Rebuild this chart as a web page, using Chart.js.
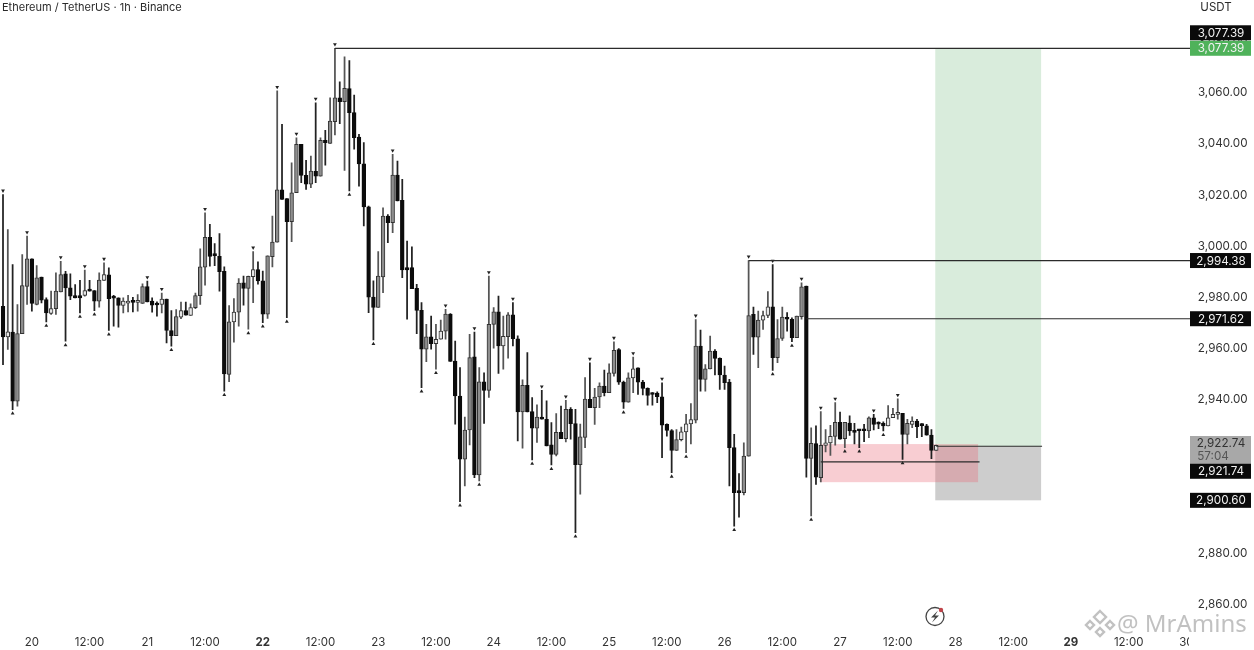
<!DOCTYPE html>
<html>
<head>
<meta charset="utf-8">
<style>
  html, body { margin: 0; padding: 0; background: #fff; overflow: hidden; }
  canvas { display: block; filter: blur(0.35px); }
</style>
<script src="https://cdn.jsdelivr.net/npm/chart.js@4/dist/chart.umd.min.js"></script>
</head>
<body>
<canvas id="chart" width="1254" height="650"></canvas>
<script>
"use strict";

const opens = [
  2976.5,2964.5,2966.4,2939.4,2965.8,2984.3,2995,2977.2,2987.9,2979.1,
  2973.7,2975.6,2982.1,2989.2,2983.7,2980.7,2980.7,2980.7,2982.9,2982.6,
  2978.5,2986.6,2988.8,2980,2979.8,2976.8,2977.7,2978.1,2978,2977.6,
  2984.2,2978.5,2977.4,2977.2,2979.3,2967,2965,2972.2,2974.8,2972.9,
  2975.9,2980.6,2991.8,3003.5,2996.7,2996,2990.2,2949.8,2970.4,2974.2,
  2985.7,2983.5,2988.1,2990.8,2986.4,2973.4,2995.9,3001.6,3022,3018.6,
  3009.6,3020.9,3039.8,3027.7,3024.2,3029.3,3027.4,3041.4,3040.2,3048.7,
  3058,3056.5,3061.6,3052.2,3042.7,3032.2,3015.4,2980.1,2976,2988,
  3011.8,3009.2,3027.8,3017.9,2991.6,2991.6,2983.5,2974.9,2959.7,2964.5,
  2961.9,2963.6,2966.8,2973.4,2955.1,2941.4,2916.7,2928.1,2956.7,2910.5,
  2946.9,2943.6,2969.4,2974.3,2961,2964.6,2973.1,2963.8,2935.2,2945.6,
  2935.3,2928.8,2933.2,2932.3,2922.3,2918.6,2927.2,2924.7,2936.2,2930.6,
  2914.5,2925.2,2940.1,2936.8,2941,2945.3,2942.7,2950.2,2959.6,2946.8,
  2939,2948.5,2952.4,2946.8,2944.4,2942.5,2942.5,2941.1,2930.3,2927.9,
  2920.1,2924.3,2927.4,2930.5,2931.9,2960.9,2947.9,2952,2959,2956.1,
  2949.6,2946.8,2921.2,2904,2903.6,2917.9,2973.3,2964.4,2971.1,2972.9,
  2976.3,2956.4,2963.9,2972.1,2971.4,2964.2,2972.4,2984.4,2917,2922.8,
  2909.5,2922.1,2923.1,2925.6,2931.1,2924.7,2930.8,2927.6,2928.1,2928.1,
  2927.7,2932.9,2930.8,2930.7,2929.7,2932.9,2934.2,2934.6,2926.4,2930.3,
  2931.6,2930.2,2929.7,2926.1,2920.1
];
const highs = [
  3020.2,3006.5,2992.8,2977.2,2996.7,3003.9,2995,2992.4,2987.9,2979.8,
  2982.4,2989.6,2994.1,2990.2,2989.2,2985,2986.6,2990.6,2986.6,2982.6,
  2989.6,2993.5,2991.5,2980.8,2979.8,2979.8,2980.8,2980,2981.1,2985.3,
  2986.3,2979.8,2978.2,2981.7,2979.3,2974.8,2975.2,2978.1,2978.1,2977.4,
  2981.7,2999,3013,3008.5,3001,3004.9,2991.9,2976.8,2979.5,2987.3,
  2988.3,2988.3,2997.9,2993.9,2990.3,2996.2,3011.8,3060.7,3047.6,3018.6,
  3032.6,3042.4,3039.8,3033.6,3035.2,3056.1,3042.4,3045.3,3058,3077.4,
  3064.3,3074,3072.6,3059.1,3043.7,3040.5,3015.7,2986.4,2997.9,3015,
  3012.4,3035.9,3033.3,3026.1,3002,2999.7,2985.1,2977.9,2969.4,2972.7,
  2969.4,2971.1,2975.3,2973.6,2962.9,2952.5,2933.2,2965.5,2966.4,2952.5,
  2950.5,2988.3,2976,2980.5,2972.7,2974,2977.9,2964.9,2947.7,2958.4,
  2940.8,2937.9,2943.6,2939.5,2931,2934.5,2937.5,2939.7,2936.9,2936.2,
  2930.4,2948.6,2954.4,2944.4,2946.6,2951.5,2954,2962.6,2959.9,2947.2,
  2950.5,2956.6,2952.4,2947.5,2944.6,2942.7,2943,2946.6,2930.5,2928.3,
  2928.3,2929.2,2934.2,2938.4,2971.3,2967.2,2953.7,2964.8,2959.6,2956.3,
  2953.1,2947.9,2926.4,2911.1,2923.1,2994.4,2976.2,2974.6,2974.6,2982.2,
  2992.8,2971.3,2976.2,2974,2972,2972.7,2985.7,2984.4,2929,2929.7,
  2935.3,2928.3,2929.9,2938.8,2935.1,2931.1,2933.6,2930.7,2928.3,2930.3,
  2933.3,2934.2,2931.3,2931.3,2937.7,2936.6,2940.3,2934.6,2932.3,2933.3,
  2932.3,2930.6,2930.3,2928.3,2922.2
];
const lows = [
  2953.7,2959.6,2936.1,2937.4,2965.8,2977.2,2974.6,2977,2977.8,2970.4,
  2973.3,2973.3,2982.1,2962.8,2979.1,2979.8,2973.9,2980.4,2982.4,2974.8,
  2976.1,2986.6,2967,2968.7,2968.3,2973.9,2974.3,2974.3,2974.6,2977.6,
  2978.2,2974.2,2972.6,2973.9,2962.2,2960.9,2965,2971.6,2973,2972.9,
  2975.6,2977.2,2984.7,2992.2,2992.4,2982.4,2943.3,2947,2962.5,2968.7,
  2976.9,2967.5,2977.9,2985.1,2970.1,2971.7,2991.9,3001.6,3018.3,2972,
  3001.8,3020.9,3024.8,3022.2,3022.9,3024.8,3027.4,3031.7,3040.2,3043.5,
  3047.9,3029.6,3021.6,3037.9,3023.5,3007.9,2974,2963.3,2976,2981.8,
  3001.4,3005.3,3017.7,2987.7,2971.4,2983.4,2965.8,2944.7,2954.8,2959.7,
  2951.9,2963.6,2963.6,2954.9,2930.4,2900.1,2906.2,2922.3,2909.5,2908.2,
  2930.7,2940.8,2960.1,2950.2,2951.9,2956.2,2961,2923.8,2921,2935.2,
  2916.4,2923.2,2932.3,2921.9,2914.4,2918,2924.7,2923.4,2924.5,2888,
  2903,2921.2,2936.8,2930.3,2936.8,2941.4,2942.7,2949.2,2945.9,2936.5,
  2939,2942.7,2942,2941.8,2937.8,2937.8,2938.8,2917.3,2925.7,2911.4,
  2920.1,2923.8,2919.2,2922.7,2930.9,2943.3,2943.3,2952,2949.6,2944,
  2944,2906.2,2890.5,2894,2902.7,2917.9,2957.7,2952.5,2967.4,2972,
  2951.4,2954.4,2963.1,2966.8,2962.6,2964.2,2971.4,2909.7,2894.5,2906.8,
  2907.8,2919.5,2918.2,2922.2,2924.5,2921.2,2926,2922.7,2921.2,2923.5,
  2925.1,2928.1,2928.6,2927.7,2929.7,2932.9,2932.3,2916.6,2922.7,2929,
  2925.1,2925.5,2926.1,2916.9,2920.1
];
const closes = [
  2964.5,2966.5,2939.4,2965.8,2984.6,2995,2977.6,2987.6,2978.9,2973.9,
  2975.6,2982.4,2988.9,2983.7,2980.4,2979.8,2979.8,2982.6,2982.4,2978.5,
  2986.7,2988.9,2979.5,2979.7,2976.8,2978.5,2978.4,2978,2978.2,2984.2,
  2978.2,2976.9,2977,2979.3,2967,2965,2972.5,2974.8,2973,2976,
  2980.7,2991.9,3003.5,2996,2996.3,2990,2950,2970.4,2974.2,2985.6,
  2983.5,2988.2,2990.8,2986.4,2973.4,2996.2,3001.6,3022,3018.3,3009.6,
  3020.9,3039.8,3027.7,3024.2,3029.4,3027.4,3041.4,3040.5,3048.9,3058,
  3056.5,3061.7,3052.2,3042.4,3032.2,3015.3,2980.1,2976,2988.3,3011.8,
  3009.2,3027.8,3017.7,2990.7,2990.7,2983.4,2974.9,2959.7,2964.5,2961.9,
  2963.6,2966.8,2973.4,2954.9,2941.4,2916.7,2928.1,2956.4,2910.5,2946.9,
  2943.6,2969.4,2974.3,2961,2964.7,2973.1,2963.8,2935.2,2945.6,2935.2,
  2928.8,2933.2,2932.3,2921.9,2918.6,2927.2,2924.7,2936.2,2930.6,2914.5,
  2925.4,2940.2,2936.8,2941,2945.3,2942.7,2950.5,2959.3,2946.8,2939,
  2948.5,2952,2946.8,2944.4,2941.6,2942,2941.1,2930,2927.9,2920.1,
  2924.4,2927.4,2930.5,2932.2,2960.9,2947.9,2952,2959,2956.1,2949.6,
  2946.6,2921.2,2903.6,2903.6,2917.9,2972.9,2964.4,2971.1,2972.9,2976.3,
  2956.4,2963.9,2972.3,2971.4,2964.2,2972.7,2984.1,2917,2922.9,2909.7,
  2922.1,2923.1,2925.6,2931.1,2924.5,2931.1,2927.7,2927.2,2927.8,2927.8,
  2932.9,2930.3,2930.4,2929.7,2932.9,2934.2,2934.6,2926.4,2930.7,2931.6,
  2929.4,2929.8,2926.1,2920.1,2922.1
];

// small triangles over swing highs and under swing lows
const highMarks = [0,5,12,17,21,30,33,42,52,57,61,65,69,81,92,98,101,106,112,117,122,127,131,137,144,155,160,166,170,173,181,186];
const lowMarks = [2,9,13,16,19,22,35,46,51,54,59,72,77,87,90,95,99,110,114,119,129,139,142,152,160,164,168,175,178,183,187];

const tickLabels = ["20","12:00","21","12:00","22","12:00","23","12:00","24","12:00","25","12:00","26","12:00","27","12:00","28","12:00","29","12:00","30"];
const boldTicks = ["22","29"];
const firstTick = 6;
const slots = 248;

// horizontal levels: price, first candle, last candle
const levelPrices = [3077.39, 2994.38, 2971.62, 2921.74, 2915.6];
const levelFrom = [69, 155, 167, 194, 170];
const levelTo = [247, 247, 247, 216, 203];

const zoneFrom = [193.8, 193.8, 169.9];
const zoneTo = [215.8, 215.8, 202.7];
const zoneHigh = [3077.39, 2921.74, 2922.6];
const zoneLow = [2921.74, 2900.6, 2907.7];
const zoneColors = ["#d9ecdc", "#cdcdcd", "rgba(232,100,115,0.32)"];

const labels = [];
for (let i = 0; i < slots; i++) {
  const k = (i - firstTick) / 12;
  labels.push(Number.isInteger(k) && tickLabels[k] ? tickLabels[k] : "");
}

const wicks = highs.map((h, i) => [lows[i], h]);
const bodies = opens.map((o, i) => [o, closes[i]]);
const isUp = (i) => closes[i] >= opens[i];
// short up candles read as hollow, long ones as grey after the image blur
const upFill = (i) => (closes[i] - opens[i] < 4 ? "#e6e6e6" : "#8e8e8e");

const levelSets = levelPrices.map((p, n) => ({
  type: "line",
  data: labels.map((_, i) => (i >= levelFrom[n] && i <= levelTo[n] ? p : null)),
  borderColor: "#2b2b2b",
  borderWidth: 1.2,
  pointRadius: 0,
  order: 0
}));

const zonesPlugin = {
  id: "zones",
  beforeDatasetsDraw(chart) {
    const { ctx, scales: { x, y } } = chart;
    ctx.save();
    zoneFrom.forEach((from, n) => {
      const left = x.getPixelForValue(from);
      const right = x.getPixelForValue(zoneTo[n]);
      const top = y.getPixelForValue(zoneHigh[n]);
      ctx.fillStyle = zoneColors[n];
      ctx.fillRect(left, top, right - left, y.getPixelForValue(zoneLow[n]) - top);
    });
    ctx.restore();
  }
};

// price tags on the right axis
const tagTexts = ["3,077.39", "3,077.39", "2,994.38", "2,971.62", "2,921.74", "2,900.60"];
const tagPrices = [3077.39, 3077.39, 2994.38, 2971.62, 2921.74, 2900.6];
const tagShift = [-15.5, 0, 0, 0, 25, 0];
const tagColors = ["#0a0a0a", "#4fb25a", "#0a0a0a", "#0a0a0a", "#0a0a0a", "#0a0a0a"];

const overlayPlugin = {
  id: "overlay",
  afterDraw(chart) {
    const { ctx, scales: { y } } = chart;
    ctx.save();

    // the axis clips the last date label
    ctx.fillStyle = "#fff";
    ctx.fillRect(1189, 629, 65, 21);

    ctx.textBaseline = "middle";
    ctx.fillStyle = "#2a2a2a";
    ctx.font = "11px Inter, 'Liberation Sans', sans-serif";
    ctx.textAlign = "left";
    ctx.fillText("Ethereum / TetherUS \u00b7 1h \u00b7 Binance", 2, 8);
    ctx.textAlign = "center";
    ctx.font = "11.5px Inter, 'Liberation Sans', sans-serif";
    ctx.fillText("USDT", 1216, 7.5);

    // countdown box
    ctx.fillStyle = "#a8a8a8";
    ctx.fillRect(1190, 436, 61, 28);
    ctx.fillStyle = "#333";
    ctx.font = "11.7px Inter, 'Liberation Sans', sans-serif";
    ctx.fillText("2,922.74", 1221, 443);
    ctx.fillStyle = "#555";
    ctx.fillText("57:04", 1213, 456);

    tagTexts.forEach((text, n) => {
      const mid = y.getPixelForValue(tagPrices[n]) + tagShift[n];
      ctx.fillStyle = tagColors[n];
      ctx.fillRect(1190, mid - 7.5, 61, 15);
      ctx.fillStyle = "#f2f2f2";
      ctx.fillText(text, 1221, mid + 0.5);
    });

    // lightning badge
    ctx.strokeStyle = "#444";
    ctx.lineWidth = 1.3;
    ctx.beginPath();
    ctx.arc(935, 616.5, 9, 0, Math.PI * 2);
    ctx.stroke();
    ctx.fillStyle = "#444";
    ctx.beginPath();
    ctx.moveTo(938, 610.5);
    ctx.lineTo(931, 617.5);
    ctx.lineTo(935, 617.5);
    ctx.lineTo(932, 622.5);
    ctx.lineTo(939, 615.5);
    ctx.lineTo(935, 615.5);
    ctx.closePath();
    ctx.fill();
    ctx.fillStyle = "#c0444a";
    ctx.beginPath();
    ctx.arc(941, 610, 2.2, 0, Math.PI * 2);
    ctx.fill();

    // watermark
    ctx.strokeStyle = "rgba(160,160,160,0.65)";
    ctx.lineWidth = 2.4;
    [[1100, 617, 6], [1100, 632, 4], [1090, 625, 4], [1110, 625, 4]].forEach(([cx, cy, r]) => {
      ctx.beginPath();
      ctx.moveTo(cx, cy - r);
      ctx.lineTo(cx + r, cy);
      ctx.lineTo(cx, cy + r);
      ctx.lineTo(cx - r, cy);
      ctx.closePath();
      ctx.stroke();
    });
    ctx.fillStyle = "rgba(160,160,160,0.65)";
    ctx.textAlign = "left";
    ctx.font = "24px 'Noto Sans', sans-serif";
    ctx.fillText("@ MrAmins", 1117, 625);
    ctx.restore();
  }
};

new Chart(document.getElementById("chart"), {
  data: {
    labels: labels,
    datasets: [
      ...levelSets,
      {
        type: "line",
        data: labels.map((_, i) => (highMarks.includes(i) ? highs[i] + 1.5 : null)),
        showLine: false,
        pointStyle: "triangle",
        pointRotation: 180,
        pointRadius: 2.2,
        backgroundColor: "#222",
        borderWidth: 0,
        order: 1
      },
      {
        type: "line",
        data: labels.map((_, i) => (lowMarks.includes(i) ? lows[i] - 1.5 : null)),
        showLine: false,
        pointStyle: "triangle",
        pointRadius: 2.2,
        backgroundColor: "#222",
        borderWidth: 0,
        order: 1
      },
      {
        type: "bar",
        data: bodies,
        grouped: false,
        barThickness: 3.8,
        minBarLength: 2,
        backgroundColor: (c) => (isUp(c.dataIndex) ? upFill(c.dataIndex) : "#0c0c0c"),
        borderColor: (c) => (isUp(c.dataIndex) ? "#333" : "#0c0c0c"),
        borderWidth: 1,
        borderSkipped: false,
        order: 2
      },
      {
        type: "bar",
        data: wicks,
        grouped: false,
        barThickness: 1.1,
        backgroundColor: (c) => (isUp(c.dataIndex) ? "#555" : "#222"),
        order: 3
      }
    ]
  },
  options: {
    responsive: false,
    animation: false,
    layout: { autoPadding: false, padding: { left: 0.6 } },
    plugins: { legend: { display: false }, tooltip: { enabled: false } },
    scales: {
      x: {
        type: "category",
        grid: { display: false },
        border: { display: false },
        afterFit(scale) {
          scale.height = 22;
          scale.paddingLeft = 0;
          scale.paddingRight = 0;
        },
        ticks: {
          autoSkip: false,
          maxRotation: 0,
          padding: 0,
          color: "#333",
          font: (c) => ({
            family: "Inter, 'Liberation Sans', sans-serif",
            size: 11.5,
            weight: c.tick && boldTicks.includes(c.tick.label) ? "bold" : "normal"
          })
        }
      },
      y: {
        position: "right",
        min: 2850.67,
        max: 3096.27,
        grid: { display: false, drawTicks: false },
        border: { display: false },
        afterFit(scale) {
          scale.width = 60.4;
          scale.paddingTop = 0;
          scale.paddingBottom = 0;
        },
        ticks: {
          stepSize: 20,
          includeBounds: false,
          padding: 4,
          crossAlign: "center",
          color: "#333",
          font: { family: "Inter, 'Liberation Sans', sans-serif", size: 11.7 },
          callback: (v) => v.toLocaleString("en-US", { minimumFractionDigits: 2 })
        }
      }
    }
  },
  plugins: [zonesPlugin, overlayPlugin]
});
</script>
</body>
</html>
